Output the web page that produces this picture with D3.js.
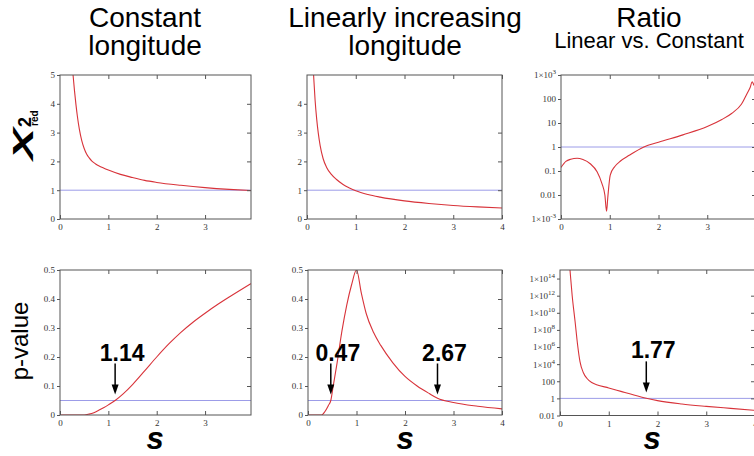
<!DOCTYPE html>
<html>
<head>
<meta charset="utf-8">
<script src="https://cdn.jsdelivr.net/npm/d3@7"></script>
<style>
body { margin: 0; background: #fff; }
svg { display: block; }
</style>
</head>
<body>
<svg id="fig" width="754" height="456"></svg>
<script>
// reduced chi^2, constant longitude
var sChiConst = [0.25, 0.27, 0.30, 0.33, 0.36, 0.40, 0.45, 0.50, 0.55, 0.60, 0.66, 0.73, 0.80, 0.9, 1.0, 1.25, 1.5, 1.75, 2.0, 2.5, 3.0, 3.5, 3.95];
var chiConst  = [5.4, 5.0, 4.45, 3.97, 3.56, 3.12, 2.72, 2.45, 2.26, 2.13, 2.01, 1.92, 1.85, 1.77, 1.70, 1.55, 1.44, 1.34, 1.27, 1.17, 1.09, 1.03, 0.99];

// reduced chi^2, linearly increasing longitude
var sChiLin = [0.11, 0.12, 0.14, 0.165, 0.2, 0.23, 0.27, 0.33, 0.4, 0.5, 0.6, 0.74, 0.87, 1.0, 1.25, 1.5, 2.0, 2.5, 3.0, 3.5, 4.0];
var chiLin  = [5.85, 5.5, 4.85, 4.15, 3.45, 3.0, 2.55, 2.1, 1.8, 1.55, 1.38, 1.2, 1.08, 0.98, 0.85, 0.76, 0.63, 0.54, 0.47, 0.42, 0.38];

// chi^2 ratio linear / constant
var sChiRatio = [0, 0.1, 0.2, 0.33, 0.45, 0.6, 0.74, 0.84, 0.9, 0.935, 0.96, 1.01, 1.1, 1.22, 1.4, 1.7, 2.0, 2.5, 3.0, 3.3, 3.5, 3.7, 3.82, 3.88, 3.92, 3.96, 4.0];
var chiRatio  = [0.14, 0.25, 0.31, 0.34, 0.3, 0.2, 0.093, 0.03, 0.01, 0.0021, 0.008, 0.068, 0.15, 0.26, 0.45, 1.0, 1.58, 3.2, 7.1, 14, 25, 60, 174, 300, 520, 380, 300];

// p-value, constant longitude
var sPConst = [0, 0.5, 0.6, 0.7, 0.8, 0.9, 1.0, 1.14, 1.3, 1.5, 1.75, 2.0, 2.25, 2.5, 2.75, 3.0, 3.25, 3.5, 3.75, 3.95];
var pConst  = [0, 0, 0.003, 0.008, 0.016, 0.025, 0.035, 0.05, 0.072, 0.105, 0.152, 0.2, 0.245, 0.285, 0.32, 0.351, 0.38, 0.407, 0.433, 0.453];

// p-value, linearly increasing longitude
var sPLin = [0, 0.28, 0.35, 0.42, 0.47, 0.52, 0.6, 0.7, 0.8, 0.9, 1.0, 1.1, 1.2, 1.35, 1.5, 1.75, 2.0, 2.25, 2.5, 2.67, 3.0, 3.5, 4.0];
var pLin  = [0, 0, 0.012, 0.033, 0.05, 0.1, 0.18, 0.29, 0.38, 0.45, 0.5, 0.42, 0.35, 0.285, 0.24, 0.18, 0.133, 0.1, 0.074, 0.058, 0.043, 0.03, 0.021];

// p-value ratio
var sPRatio = [0.19, 0.205, 0.25, 0.31, 0.36, 0.41, 0.48, 0.55, 0.65, 0.75, 1.0, 1.25, 1.5, 1.77, 2.0, 2.5, 3.0, 3.5, 4.0];
var pRatio  = [1e16, 1e15, 1e12, 9e8, 2e6, 2e4, 1e3, 224, 71, 40, 16.6, 6.6, 2.63, 1.05, 0.55, 0.22, 0.117, 0.068, 0.04];

var titles = [["Constant", "longitude"], ["Linearly increasing", "longitude"], ["Ratio", "Linear vs. Constant"]];
var annotations = [
    { panel: 3, s: 1.14, label: "1.14" },
    { panel: 4, s: 0.47, label: "0.47" },
    { panel: 4, s: 2.67, label: "2.67" },
    { panel: 5, s: 1.77, label: "1.77" }
];

var red = "#d8333a", blue = "#9c9ce8", frameCol = "#555";

var svg = d3.select("#fig");

var panels = [
    { left: 60, right: 251, top: 75, bottom: 219, xDomain: [0, 3.95], xTicks: [0, 1, 2, 3],
      yDomain: [0, 5], yTicks: [0, 1, 2, 3, 4, 5], ref: 1, s: sChiConst, v: chiConst },
    { left: 307, right: 502, top: 75, bottom: 219, xDomain: [0, 4], xTicks: [0, 1, 2, 3, 4],
      yDomain: [0, 5], yTicks: [0, 1, 2, 3, 4], ref: 1, s: sChiLin, v: chiLin },
    { left: 561, right: 756, top: 75, bottom: 219, xDomain: [0, 4], xTicks: [0, 1, 2, 3, 4], log: true,
      yDomain: [1e-3, 1e3], yTicks: [1e-3, 0.01, 0.1, 1, 10, 100, 1e3], ref: 1, s: sChiRatio, v: chiRatio },
    { left: 60, right: 251, top: 270, bottom: 415, xDomain: [0, 3.95], xTicks: [0, 1, 2, 3],
      yDomain: [0, 0.5], yTicks: [0, 0.1, 0.2, 0.3, 0.4, 0.5], ref: 0.05, s: sPConst, v: pConst },
    { left: 308, right: 502, top: 270, bottom: 415, xDomain: [0, 4], xTicks: [0, 1, 2, 3, 4],
      yDomain: [0, 0.5], yTicks: [0, 0.1, 0.2, 0.3, 0.4, 0.5], ref: 0.05, s: sPLin, v: pLin },
    { left: 560, right: 755, top: 270, bottom: 415.5, xDomain: [0, 4], xTicks: [0, 1, 2, 3, 4], log: true,
      yDomain: [0.01, 1e15], yTicks: [0.01, 1, 100, 1e4, 1e6, 1e8, 1e10, 1e12, 1e14], ref: 1, s: sPRatio, v: pRatio }
];

function expLabel(v) {
    return (v >= 1000 || v < 0.01) ? String(Math.round(Math.log10(v))) : null;
}

function styleTicks(g) {
    g.select(".domain").remove();
    g.selectAll(".tick line").attr("stroke", frameCol);
    g.selectAll(".tick text")
        .attr("font-family", "'Liberation Serif', serif")
        .attr("font-size", 9)
        .attr("fill", "#333");
}

panels.forEach(function(p, i) {
    var x = d3.scaleLinear().domain(p.xDomain).range([p.left, p.right]);
    var y = (p.log ? d3.scaleLog() : d3.scaleLinear()).domain(p.yDomain).range([p.bottom, p.top]);
    p.x = x; p.y = y;

    var clipId = "clip" + i;
    svg.append("clipPath").attr("id", clipId).append("rect")
        .attr("x", p.left).attr("y", p.top)
        .attr("width", p.right - p.left).attr("height", p.bottom - p.top);

    var g = svg.append("g");

    g.append("line")
        .attr("x1", p.left).attr("x2", p.right)
        .attr("y1", y(p.ref)).attr("y2", y(p.ref))
        .attr("stroke", blue).attr("stroke-width", 1);

    var line = d3.line()
        .x(function(d) { return x(d[0]); })
        .y(function(d) { return y(d[1]); })
        .curve(d3.curveMonotoneX);

    g.append("path")
        .datum(d3.zip(p.s, p.v))
        .attr("clip-path", "url(#" + clipId + ")")
        .attr("fill", "none")
        .attr("stroke", red)
        .attr("stroke-width", 1.1)
        .attr("d", line);

    // frame
    g.append("rect")
        .attr("x", p.left).attr("y", p.top)
        .attr("width", p.right - p.left).attr("height", p.bottom - p.top)
        .attr("fill", "none").attr("stroke", frameCol).attr("stroke-width", 1);

    // bottom axis, ticks pointing inward
    g.append("g")
        .attr("transform", "translate(0," + p.bottom + ")")
        .call(d3.axisBottom(x).tickValues(p.xTicks).tickSizeInner(-4).tickSizeOuter(0).tickPadding(5)
            .tickFormat(d3.format("d")))
        .call(styleTicks);

    g.append("g")
        .attr("transform", "translate(0," + p.top + ")")
        .call(d3.axisTop(x).tickValues(p.xTicks.filter(function(d) { return d > 0; }))
            .tickSizeInner(-4).tickSizeOuter(0).tickFormat(""))
        .call(styleTicks);

    var yl = g.append("g")
        .attr("transform", "translate(" + p.left + ",0)")
        .call(d3.axisLeft(y).tickValues(p.yTicks).tickSizeInner(3).tickSizeOuter(0).tickPadding(2)
            .tickFormat(function(d) { return p.log ? String(d) : d3.format("")(d); }))
        .call(styleTicks);

    if (p.log) {
        yl.selectAll(".tick text").each(function(d) {
            var e = expLabel(d);
            if (e === null) return;
            var t = d3.select(this);
            t.text(null);
            t.append("tspan").text("1\u00d710");
            t.append("tspan").attr("dy", -4).attr("font-size", 7).text(e);
        });
    }

    g.append("g")
        .attr("transform", "translate(" + p.right + ",0)")
        .call(d3.axisRight(y).tickValues(p.yTicks.slice(1, -1)).tickSizeInner(-4).tickSizeOuter(0).tickFormat(""))
        .call(styleTicks);
});

// column titles
var titleX = [145, 405, 649];
titles.forEach(function(t, i) {
    svg.append("text")
        .attr("x", titleX[i]).attr("y", 27)
        .attr("text-anchor", "middle")
        .attr("font-family", "'Liberation Sans', Arial, sans-serif")
        .attr("font-size", 28)
        .text(t[0]);
    svg.append("text")
        .attr("x", titleX[i]).attr("y", i == 2 ? 48 : 55)
        .attr("text-anchor", "middle")
        .attr("font-family", "'Liberation Sans', Arial, sans-serif")
        .attr("font-size", i == 2 ? 22 : 28)
        .text(t[1]);
});

// row labels
var chiLab = svg.append("g").attr("transform", "translate(33,160) rotate(-90)")
    .attr("font-family", "'Liberation Sans', Arial, sans-serif");
chiLab.append("text").attr("x", 0).attr("y", 0)
    .attr("font-size", 30).attr("font-weight", "bold").attr("font-style", "italic")
    .attr("textLength", 32).attr("lengthAdjust", "spacingAndGlyphs")
    .text("X");
chiLab.append("text").attr("x", 33).attr("y", -2)
    .attr("font-size", 18).attr("font-weight", "bold").text("2");
chiLab.append("text").attr("x", 34).attr("y", 5)
    .attr("font-size", 10).attr("font-weight", "bold").text("red");

svg.append("text")
    .attr("transform", "translate(28,341) rotate(-90)")
    .attr("text-anchor", "middle")
    .attr("font-family", "'Liberation Sans', Arial, sans-serif")
    .attr("font-size", 24)
    .text("p-value");

// s axis labels
[155, 405, 652].forEach(function(cx) {
    svg.append("text")
        .attr("x", cx).attr("y", 449)
        .attr("text-anchor", "middle")
        .attr("font-family", "'Liberation Sans', Arial, sans-serif")
        .attr("font-size", 31).attr("font-weight", "bold").attr("font-style", "italic")
        .text("s");
});

// crossing annotations
annotations.forEach(function(a) {
    var p = panels[a.panel];
    var ax = p.x(a.s);
    var tip = p.y(p.ref) - 6;
    var top = tip - 31;
    svg.append("line")
        .attr("x1", ax).attr("x2", ax).attr("y1", top).attr("y2", tip - 8)
        .attr("stroke", "#000").attr("stroke-width", 1.5);
    svg.append("path")
        .attr("d", "M" + ax + "," + tip + "L" + (ax - 3.5) + "," + (tip - 10) + "L" + (ax + 3.5) + "," + (tip - 10) + "Z")
        .attr("fill", "#000");
    svg.append("text")
        .attr("x", ax + 7).attr("y", top - 3)
        .attr("text-anchor", "middle")
        .attr("font-family", "'Liberation Sans', Arial, sans-serif")
        .attr("font-size", 23).attr("font-weight", "bold")
        .text(a.label);
});
</script>
</body>
</html>
